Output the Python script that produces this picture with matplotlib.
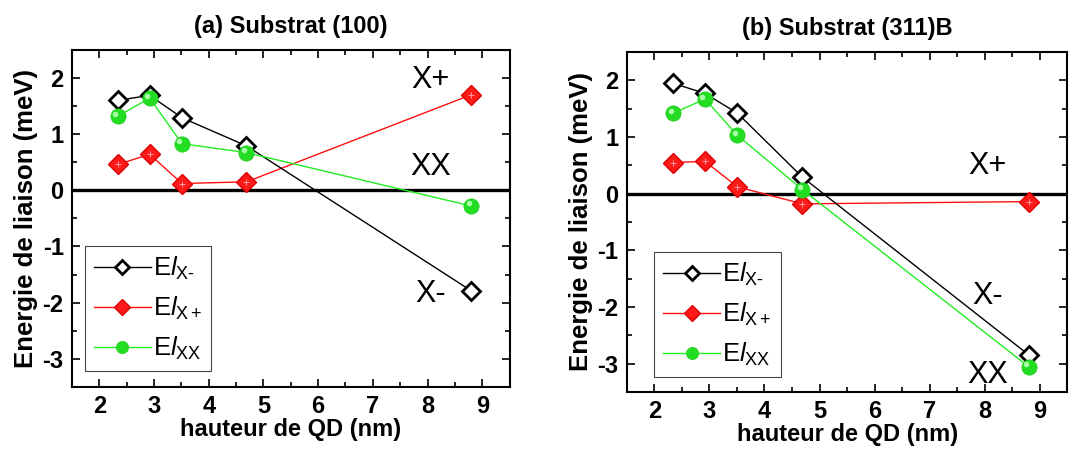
import matplotlib
matplotlib.use("Agg")
import matplotlib.pyplot as plt
import matplotlib.transforms as mtransforms
from matplotlib.ticker import MultipleLocator

plt.rcParams['font.family'] = ['Liberation Sans', 'DejaVu Sans']
plt.rcParams['mathtext.fontset'] = 'custom'
plt.rcParams['mathtext.rm'] = 'Liberation Sans'
plt.rcParams['mathtext.it'] = 'Liberation Sans:italic'
plt.rcParams['axes.unicode_minus'] = False

# Data
heights = [2.34, 2.92, 3.51, 4.69, 8.80]
a_xminus = [1.60, 1.69, 1.29, 0.79, -1.79]
a_xplus = [0.46, 0.64, 0.12, 0.15, 1.70]
a_xx = [1.32, 1.64, 0.83, 0.67, -0.28]
b_xminus = [1.95, 1.77, 1.42, 0.29, -2.85]
b_xplus = [0.55, 0.57, 0.12, -0.18, -0.14]
b_xx = [1.42, 1.67, 1.03, 0.07, -3.06]

titles = ["(a) Substrat (100)", "(b) Substrat (311)B"]
legend_labels = [r'E$\mathit{l}_{\mathrm{X}\text{-}}$',
                 r'E$\mathit{l}_{\mathrm{X+}}$',
                 r'E$\mathit{l}_{\mathrm{XX}}$']
annot_a = [("X+", 8.05, 1.96), ("XX", 8.05, 0.42), ("X-", 8.05, -1.84)]
annot_b = [("X+", 8.05, 0.49), ("X-", 8.05, -1.81), ("XX", 8.05, -3.2)]

fig = plt.figure(figsize=(10.75, 4.53), dpi=100)
ax_a = fig.add_axes([0.067, 0.146, 0.407, 0.744])
ax_b = fig.add_axes([0.583, 0.135, 0.410, 0.750])

def panel(ax, xm, xp, xx, title, annots, leg_anchor):
    ax.axhline(0, color='black', lw=2.4, zorder=1)
    l1, = ax.plot(heights, xm, color='black', lw=1.0, marker='D', ms=9,
                  mfc='white', mec='black', mew=2.0, zorder=4)
    l2, = ax.plot(heights, xp, color='#ff1010', lw=1.0, marker='D', ms=10,
                  mfc='#ff1a1a', mec='#dd0000', mew=1.0, zorder=3)
    ax.plot(heights, xp, ls='none', marker='+', ms=5, mew=0.6,
            color='#ffb0b0', zorder=3.5)
    l3, = ax.plot(heights, xx, color='#22ee22', lw=1.0, marker='o', ms=11,
                  mfc='#22dd22', mec='#22cc22', mew=0.5, zorder=5)
    hl = mtransforms.offset_copy(ax.transData, fig=ax.figure, x=-1.8, y=1.8, units='points')
    ax.plot(heights, xx, ls='none', marker='o', ms=4, mfc='#a8ffa8', mec='none',
            transform=hl, zorder=5.5)
    ax.set_xlim(1.5, 9.5)
    ax.set_ylim(-3.5, 2.5)
    ax.xaxis.set_major_locator(MultipleLocator(1))
    ax.xaxis.set_minor_locator(MultipleLocator(0.5))
    ax.yaxis.set_major_locator(MultipleLocator(1))
    ax.yaxis.set_minor_locator(MultipleLocator(0.5))
    ax.tick_params(which='both', direction='in', top=True, right=True,
                   width=1.2)
    ax.tick_params(which='major', length=6, labelsize=17, pad=6)
    ax.tick_params(which='minor', length=3.5)
    for lab in ax.get_xticklabels() + ax.get_yticklabels():
        lab.set_fontweight('bold')
    for s in ax.spines.values():
        s.set_linewidth(1.5)
    ax.set_xlabel("hauteur de QD (nm)", fontsize=17, fontweight='bold', labelpad=0)
    ax.set_ylabel("Energie de liaison (meV)", fontsize=18.5, fontweight='bold', labelpad=3)
    ax.set_title(title, fontsize=17, fontweight='bold', pad=12)
    for txt, x, y in annots:
        ax.text(x, y, txt, fontsize=22, ha='center', va='center')
    leg = ax.legend([l1, l2, l3], legend_labels, loc='lower left',
                    bbox_to_anchor=leg_anchor, borderaxespad=0,
                    fontsize=18.5, fancybox=False, edgecolor='#444444',
                    framealpha=1, handlelength=2.2, handletextpad=0.08,
                    labelspacing=0.5, borderpad=0.35, markerscale=0.8)
    leg.get_frame().set_linewidth(0.8)

panel(ax_a, a_xminus, a_xplus, a_xx, titles[0], annot_a, (0.03, 0.047))
panel(ax_b, b_xminus, b_xplus, b_xx, titles[1], annot_b, (0.063, 0.044))

fig.savefig("out.png", dpi=100)
